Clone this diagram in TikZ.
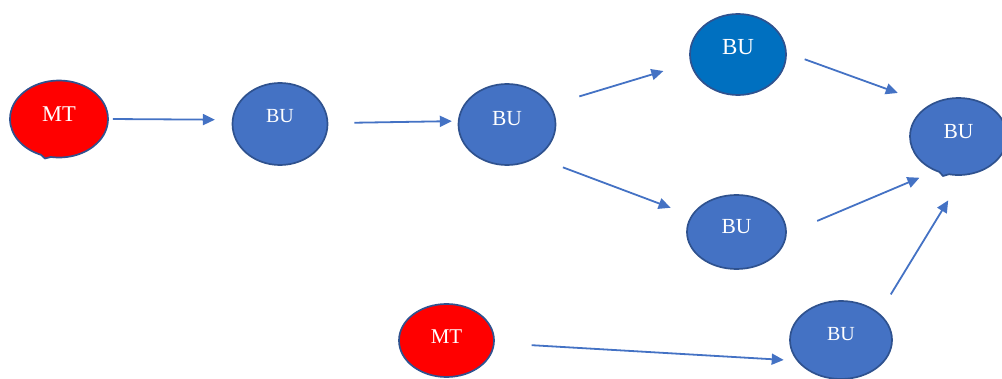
\documentclass[tikz,border=0pt]{standalone}
\usepackage{fontspec}
\setmainfont{Liberation Serif}
\usetikzlibrary{arrows.meta,shapes.geometric,shapes.callouts}
\definecolor{unitblue}{HTML}{4472C4}
\definecolor{darkunit}{HTML}{0070C0}
\definecolor{rimblue}{HTML}{2F528F}
\definecolor{mtred}{HTML}{FF0000}
\tikzset{
	unit/.style={ellipse,draw=rimblue,line width=1.7pt,fill=unitblue,text=white,inner sep=0pt,text height=14pt,font=\fontsize{21.5}{21.5}\selectfont},
	mt/.style={unit,fill=mtred},
	link/.style={draw=unitblue,line width=1.8pt,-{Triangle[length=12pt,width=11pt]}}
}
\begin{document}
\begin{tikzpicture}[x=1pt,y=-1pt]
		\useasboundingbox (0,0) rectangle (1002,379);
		\node[mt,ellipse callout,callout absolute pointer={(45,158.5)},callout pointer arc=12,minimum width=98pt,minimum height=77pt,text depth=8pt,font=\fontsize{22.5}{22.5}\selectfont] (MT1) at (59,119) {MT};
		\node[unit,minimum width=95pt,minimum height=82pt,text depth=16pt,font=\fontsize{20}{20}\selectfont] (BU1) at (280,124) {BU};
		\node[unit,minimum width=97pt,minimum height=81pt,text depth=12pt] (BU2) at (507,124.5) {BU};
		\node[unit,fill=darkunit,minimum width=96pt,minimum height=81pt,text depth=13pt,font=\fontsize{23}{23}\selectfont] (BU3) at (738,54.5) {BU};
		\node[unit,minimum width=99pt,minimum height=74pt,text depth=10pt] (BU4) at (736.5,232) {BU};
		\node[unit,ellipse callout,callout absolute pointer={(943,176)},callout pointer arc=12,minimum width=97pt,minimum height=77pt,text depth=10pt] (BU5) at (958.5,136.5) {BU};
		\node[mt,minimum width=95pt,minimum height=73pt,text depth=8pt,font=\fontsize{21}{21}\selectfont] (MT2) at (446.5,340.5) {MT};
		\node[unit,minimum width=102pt,minimum height=78pt,text depth=13pt,font=\fontsize{20}{20}\selectfont] (BU6) at (841,340) {BU};
		\draw[link,shorten <=4pt,shorten >=17pt] (MT1.east) -- (BU1.175);
		\draw[link,shorten <=26pt,shorten >=6pt] (BU1.1) -- (BU2.176);
		\draw[link,shorten <=30pt,shorten >=28pt] (BU2.24) -- (BU3.190);
		\draw[link,shorten <=28pt,shorten >=22pt] (BU2.-48) -- (BU4.160);
		\draw[link,shorten <=19pt,shorten >=34pt] (BU3.2) -- (BU5.132);
		\draw[link,shorten <=33pt,shorten >=17pt] (BU4.-2) -- (BU5.236);
		\draw[link,shorten <=22pt,shorten >=29pt] (BU6.35) -- (BU5.-83);
		\draw[link,shorten <=37pt,shorten >=13pt] (MT2.-3) -- (BU6.205);
	\end{tikzpicture}
\end{document}
